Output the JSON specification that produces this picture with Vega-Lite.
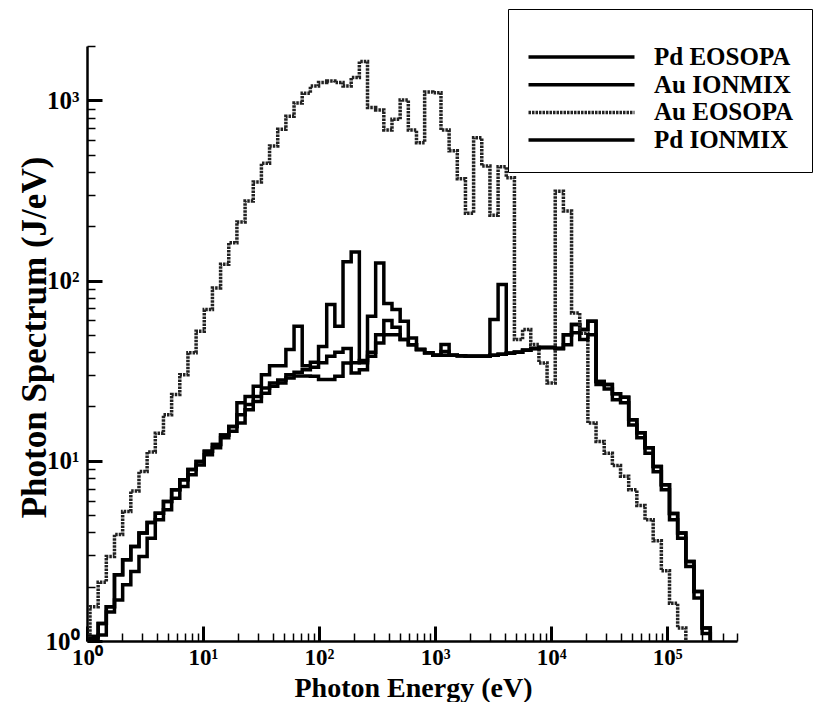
{
 "$schema": "https://vega.github.io/schema/vega-lite/v6.json",
 "width": 650,
 "height": 595,
 "autosize": {"type": "none"},
 "padding": {"left": 87, "top": 46, "right": 83, "bottom": 61},
 "background": "white",
 "config": {"view": {"stroke": null}, "axis": {"grid": false}},
 "data": {"values": [
  {"E":1,"Pd EOSOPA":0.5,"Au IONMIX":0.5,"Au EOSOPA":0.5,"Pd IONMIX":0.5},
  {"E":1.061,"Pd EOSOPA":1.06,"Au IONMIX":1.06,"Au EOSOPA":1.55,"Pd IONMIX":1.03},
  {"E":1.248,"Pd EOSOPA":1.25,"Au IONMIX":1.25,"Au EOSOPA":2.12,"Pd IONMIX":1.08},
  {"E":1.467,"Pd EOSOPA":1.55,"Au IONMIX":1.55,"Au EOSOPA":2.94,"Pd IONMIX":1.45},
  {"E":1.725,"Pd EOSOPA":2.33,"Au IONMIX":2.33,"Au EOSOPA":3.9,"Pd IONMIX":1.69},
  {"E":2.029,"Pd EOSOPA":2.82,"Au IONMIX":2.82,"Au EOSOPA":5.23,"Pd IONMIX":2.05},
  {"E":2.386,"Pd EOSOPA":3.34,"Au IONMIX":3.34,"Au EOSOPA":6.8,"Pd IONMIX":2.43},
  {"E":2.805,"Pd EOSOPA":3.97,"Au IONMIX":3.97,"Au EOSOPA":8.72,"Pd IONMIX":2.94},
  {"E":3.298,"Pd EOSOPA":4.54,"Au IONMIX":4.54,"Au EOSOPA":11.2,"Pd IONMIX":3.72},
  {"E":3.878,"Pd EOSOPA":5.12,"Au IONMIX":5.12,"Au EOSOPA":14.2,"Pd IONMIX":4.7},
  {"E":4.56,"Pd EOSOPA":5.94,"Au IONMIX":5.94,"Au EOSOPA":18,"Pd IONMIX":5.34},
  {"E":5.362,"Pd EOSOPA":6.9,"Au IONMIX":6.9,"Au EOSOPA":23.3,"Pd IONMIX":6.2},
  {"E":6.305,"Pd EOSOPA":7.84,"Au IONMIX":7.84,"Au EOSOPA":30,"Pd IONMIX":7.19},
  {"E":7.413,"Pd EOSOPA":8.93,"Au IONMIX":8.93,"Au EOSOPA":39.7,"Pd IONMIX":8.35},
  {"E":8.717,"Pd EOSOPA":9.9,"Au IONMIX":9.9,"Au EOSOPA":52.3,"Pd IONMIX":9.48},
  {"E":10.25,"Pd EOSOPA":11.3,"Au IONMIX":11.3,"Au EOSOPA":69,"Pd IONMIX":10.8},
  {"E":12.05,"Pd EOSOPA":12.3,"Au IONMIX":12.3,"Au EOSOPA":91,"Pd IONMIX":11.8},
  {"E":14.17,"Pd EOSOPA":13.9,"Au IONMIX":13.9,"Au EOSOPA":123,"Pd IONMIX":13.4},
  {"E":16.66,"Pd EOSOPA":15.5,"Au IONMIX":15.5,"Au EOSOPA":162,"Pd IONMIX":14.6},
  {"E":19.59,"Pd EOSOPA":18,"Au IONMIX":21,"Au EOSOPA":211,"Pd IONMIX":16.2},
  {"E":23.04,"Pd EOSOPA":20.5,"Au IONMIX":22.7,"Au EOSOPA":276,"Pd IONMIX":19.2},
  {"E":27.09,"Pd EOSOPA":22.7,"Au IONMIX":25.9,"Au EOSOPA":352,"Pd IONMIX":21.3},
  {"E":31.85,"Pd EOSOPA":25.3,"Au IONMIX":30,"Au EOSOPA":447,"Pd IONMIX":23.7},
  {"E":37.45,"Pd EOSOPA":27,"Au IONMIX":33.7,"Au EOSOPA":557,"Pd IONMIX":25.9},
  {"E":44.03,"Pd EOSOPA":28.1,"Au IONMIX":33.7,"Au EOSOPA":690,"Pd IONMIX":27},
  {"E":51.78,"Pd EOSOPA":30,"Au IONMIX":41.4,"Au EOSOPA":815,"Pd IONMIX":28.8},
  {"E":60.88,"Pd EOSOPA":31,"Au IONMIX":55.7,"Au EOSOPA":965,"Pd IONMIX":29.5},
  {"E":71.59,"Pd EOSOPA":32,"Au IONMIX":33.7,"Au EOSOPA":1095,"Pd IONMIX":29.5},
  {"E":84.17,"Pd EOSOPA":33,"Au IONMIX":35.2,"Au EOSOPA":1201,"Pd IONMIX":29.4},
  {"E":98.97,"Pd EOSOPA":35,"Au IONMIX":43,"Au EOSOPA":1253,"Pd IONMIX":28.2},
  {"E":116.4,"Pd EOSOPA":38,"Au IONMIX":73.5,"Au EOSOPA":1280,"Pd IONMIX":28.2},
  {"E":136.8,"Pd EOSOPA":40,"Au IONMIX":55.7,"Au EOSOPA":1253,"Pd IONMIX":29.4},
  {"E":160.9,"Pd EOSOPA":42,"Au IONMIX":127,"Au EOSOPA":1201,"Pd IONMIX":34.9},
  {"E":189.2,"Pd EOSOPA":35,"Au IONMIX":144,"Au EOSOPA":1336,"Pd IONMIX":30.7},
  {"E":222.5,"Pd EOSOPA":36,"Au IONMIX":35,"Au EOSOPA":1640,"Pd IONMIX":32},
  {"E":261.6,"Pd EOSOPA":63.4,"Au IONMIX":40,"Au EOSOPA":911,"Pd IONMIX":38},
  {"E":307.5,"Pd EOSOPA":125,"Au IONMIX":50,"Au EOSOPA":884,"Pd IONMIX":45},
  {"E":361.6,"Pd EOSOPA":74.5,"Au IONMIX":60,"Au EOSOPA":684,"Pd IONMIX":50},
  {"E":425.2,"Pd EOSOPA":69,"Au IONMIX":55,"Au EOSOPA":784,"Pd IONMIX":50},
  {"E":500,"Pd EOSOPA":59.4,"Au IONMIX":47,"Au EOSOPA":1004,"Pd IONMIX":47},
  {"E":587.9,"Pd EOSOPA":48,"Au IONMIX":44,"Au EOSOPA":684,"Pd IONMIX":44},
  {"E":691.3,"Pd EOSOPA":41.4,"Au IONMIX":41.4,"Au EOSOPA":582,"Pd IONMIX":41.4},
  {"E":812.8,"Pd EOSOPA":39.7,"Au IONMIX":39.7,"Au EOSOPA":1112,"Pd IONMIX":39.7},
  {"E":955.7,"Pd EOSOPA":38.5,"Au IONMIX":38.5,"Au EOSOPA":1100,"Pd IONMIX":38.5},
  {"E":1124,"Pd EOSOPA":44.1,"Au IONMIX":38.5,"Au EOSOPA":684,"Pd IONMIX":40.4},
  {"E":1321,"Pd EOSOPA":38.5,"Au IONMIX":38.5,"Au EOSOPA":524,"Pd IONMIX":38.5},
  {"E":1554,"Pd EOSOPA":38.2,"Au IONMIX":38.2,"Au EOSOPA":367,"Pd IONMIX":38.2},
  {"E":1827,"Pd EOSOPA":38,"Au IONMIX":38,"Au EOSOPA":236,"Pd IONMIX":38},
  {"E":2148,"Pd EOSOPA":38,"Au IONMIX":38,"Au EOSOPA":620,"Pd IONMIX":38},
  {"E":2526,"Pd EOSOPA":38,"Au IONMIX":38,"Au EOSOPA":432,"Pd IONMIX":38},
  {"E":2970,"Pd EOSOPA":38.5,"Au IONMIX":60.7,"Au EOSOPA":230,"Pd IONMIX":38.5},
  {"E":3492,"Pd EOSOPA":39,"Au IONMIX":95,"Au EOSOPA":428,"Pd IONMIX":39},
  {"E":4106,"Pd EOSOPA":39.5,"Au IONMIX":39.5,"Au EOSOPA":372,"Pd IONMIX":39.5},
  {"E":4828,"Pd EOSOPA":40,"Au IONMIX":40,"Au EOSOPA":47,"Pd IONMIX":40},
  {"E":5677,"Pd EOSOPA":41,"Au IONMIX":41,"Au EOSOPA":53.4,"Pd IONMIX":41},
  {"E":6675,"Pd EOSOPA":42,"Au IONMIX":42,"Au EOSOPA":44.1,"Pd IONMIX":42},
  {"E":7851,"Pd EOSOPA":42.5,"Au IONMIX":42.5,"Au EOSOPA":34.9,"Pd IONMIX":42.5},
  {"E":9229,"Pd EOSOPA":42.5,"Au IONMIX":42.5,"Au EOSOPA":27,"Pd IONMIX":42.5},
  {"E":10850,"Pd EOSOPA":42,"Au IONMIX":42,"Au EOSOPA":313,"Pd IONMIX":42},
  {"E":12760,"Pd EOSOPA":50,"Au IONMIX":50,"Au EOSOPA":243,"Pd IONMIX":44},
  {"E":15000,"Pd EOSOPA":57,"Au IONMIX":57,"Au EOSOPA":66,"Pd IONMIX":51.3},
  {"E":17640,"Pd EOSOPA":53.4,"Au IONMIX":53.4,"Au EOSOPA":51,"Pd IONMIX":47},
  {"E":20740,"Pd EOSOPA":59.4,"Au IONMIX":59.4,"Au EOSOPA":16.2,"Pd IONMIX":50},
  {"E":24390,"Pd EOSOPA":27.5,"Au IONMIX":27.5,"Au EOSOPA":12.8,"Pd IONMIX":26.5},
  {"E":28680,"Pd EOSOPA":26.5,"Au IONMIX":26.5,"Au EOSOPA":11,"Pd IONMIX":25},
  {"E":33720,"Pd EOSOPA":23.5,"Au IONMIX":23.5,"Au EOSOPA":9.4,"Pd IONMIX":21.8},
  {"E":39650,"Pd EOSOPA":22.5,"Au IONMIX":22.5,"Au EOSOPA":8.2,"Pd IONMIX":21},
  {"E":46630,"Pd EOSOPA":16.9,"Au IONMIX":16.9,"Au EOSOPA":6.9,"Pd IONMIX":15.8},
  {"E":54820,"Pd EOSOPA":14.3,"Au IONMIX":14.3,"Au EOSOPA":5.65,"Pd IONMIX":13.4},
  {"E":64460,"Pd EOSOPA":11.8,"Au IONMIX":11.8,"Au EOSOPA":4.7,"Pd IONMIX":11},
  {"E":75800,"Pd EOSOPA":9.3,"Au IONMIX":9.3,"Au EOSOPA":3.6,"Pd IONMIX":8.7},
  {"E":89120,"Pd EOSOPA":7.35,"Au IONMIX":7.35,"Au EOSOPA":2.45,"Pd IONMIX":6.9},
  {"E":104800,"Pd EOSOPA":5.1,"Au IONMIX":5.1,"Au EOSOPA":1.62,"Pd IONMIX":4.7},
  {"E":123200,"Pd EOSOPA":3.97,"Au IONMIX":3.97,"Au EOSOPA":1.18,"Pd IONMIX":3.72},
  {"E":144900,"Pd EOSOPA":2.76,"Au IONMIX":2.76,"Au EOSOPA":0.5,"Pd IONMIX":2.59},
  {"E":170400,"Pd EOSOPA":1.88,"Au IONMIX":1.88,"Au EOSOPA":0.5,"Pd IONMIX":1.73},
  {"E":200300,"Pd EOSOPA":1.18,"Au IONMIX":1.18,"Au EOSOPA":0.5,"Pd IONMIX":1.1},
  {"E":235500,"Pd EOSOPA":0.5,"Au IONMIX":0.5,"Au EOSOPA":0.5,"Pd IONMIX":0.5}
 ]},
 "transform": [{"fold": ["Pd EOSOPA", "Au IONMIX", "Au EOSOPA", "Pd IONMIX"], "as": ["curve", "S"]}],
 "layer": [
  {
   "mark": {"type": "line", "interpolate": "step-after", "clip": true},
   "encoding": {
    "x": {"field": "E", "type": "quantitative",
     "scale": {"type": "log", "domain": [1, 400000], "nice": false},
     "axis": {"orient": "bottom", "values": [1, 10, 100, 1000, 10000, 100000],
      "labelExpr": "datum.value == 1 ? '10⁰' : datum.value == 10 ? '10¹' : datum.value == 100 ? '10²' : datum.value == 1000 ? '10³' : datum.value == 10000 ? '10⁴' : '10⁵'",
      "title": "Photon Energy (eV)", "titleX": 326, "titleY": 55, "titleBaseline": "alphabetic", "titleAlign": "center",
      "titleFont": "Liberation Serif", "titleFontSize": 28, "titleFontWeight": "bold", "titleColor": "black",
      "labelFont": "Liberation Serif", "labelFontSize": 23, "labelFontWeight": "bold", "labelColor": "black",
      "labelPadding": 20, "labelFlush": false, "labelOverlap": false,
      "tickSize": -15, "tickWidth": 3, "tickColor": "black",
      "domainWidth": 2.5, "domainColor": "black", "grid": false}
    },
    "y": {"field": "S", "type": "quantitative",
     "scale": {"type": "log", "domain": [1, 2000], "nice": false},
     "axis": {"orient": "left", "values": [1, 10, 100, 1000],
      "labelExpr": "datum.value == 1 ? '10⁰' : datum.value == 10 ? '10¹' : datum.value == 100 ? '10²' : '10³'",
      "title": "Photon Spectrum (J/eV)", "titleX": -53, "titleY": 291, "titleAngle": -90, "titleAlign": "center", "titleBaseline": "middle",
      "titleFont": "Liberation Serif", "titleFontSize": 35, "titleFontWeight": "bold", "titleColor": "black",
      "labelFont": "Liberation Serif", "labelFontSize": 25, "labelFontWeight": "bold", "labelColor": "black",
      "labelPadding": 23, "labelFlush": false, "labelOverlap": false,
      "tickSize": -15, "tickWidth": 3, "tickColor": "black",
      "domainWidth": 2.5, "domainColor": "black", "grid": false}
    },
    "color": {"field": "curve", "type": "nominal",
     "scale": {"domain": ["Pd EOSOPA", "Au IONMIX", "Au EOSOPA", "Pd IONMIX"], "range": ["black", "black", "#222222", "black"]},
     "legend": {"orient": "none", "legendX": 421, "legendY": -37, "title": " ", "titleFontSize": 8, "titlePadding": 9.5,
      "padding": 18, "strokeColor": "black", "fillColor": "white", "symbolType": "M-1,0H9.6", "symbolSize": 400,
      "labelFont": "Liberation Serif", "labelFontSize": 25, "labelFontWeight": "bold", "labelColor": "black",
      "labelOffset": 103, "rowPadding": 1.7, "labelLimit": 150}
    },
    "strokeWidth": {"field": "curve", "type": "nominal",
     "scale": {"domain": ["Pd EOSOPA", "Au IONMIX", "Au EOSOPA", "Pd IONMIX"], "range": [3.5, 3.5, 2, 3.5]},
     "legend": {"orient": "none", "legendX": 421, "legendY": -37, "title": " ", "titleFontSize": 8, "titlePadding": 9.5,
      "padding": 18, "strokeColor": "black", "fillColor": "white", "symbolType": "M-1,0H9.6", "symbolSize": 400,
      "labelFont": "Liberation Serif", "labelFontSize": 25, "labelFontWeight": "bold", "labelColor": "black",
      "labelOffset": 103, "rowPadding": 1.7, "labelLimit": 150}
    },
    "strokeDash": {"field": "curve", "type": "nominal",
     "scale": {"domain": ["Pd EOSOPA", "Au IONMIX", "Au EOSOPA", "Pd IONMIX"], "range": [[1, 0], [1, 0], [2.5, 1], [1, 0]]},
     "legend": {"orient": "none", "legendX": 421, "legendY": -37, "title": " ", "titleFontSize": 8, "titlePadding": 9.5,
      "padding": 18, "strokeColor": "black", "fillColor": "white", "symbolType": "M-1,0H9.6", "symbolSize": 400,
      "labelFont": "Liberation Serif", "labelFontSize": 25, "labelFontWeight": "bold", "labelColor": "black",
      "labelOffset": 103, "rowPadding": 1.7, "labelLimit": 150}
    }
   }
  },
  {
   "mark": {"type": "point", "opacity": 0},
   "encoding": {
    "x": {"field": "E", "type": "quantitative",
     "axis": {"orient": "bottom", "values": [2,3,4,5,6,7,8,9,20,30,40,50,60,70,80,90,200,300,400,500,600,700,800,900,2000,3000,4000,5000,6000,7000,8000,9000,20000,30000,40000,50000,60000,70000,80000,90000,200000,300000,400000],
      "labels": false, "title": null, "domain": false, "tickSize": -8, "tickWidth": 1.5, "tickColor": "black", "grid": false}
    },
    "y": {"field": "S", "type": "quantitative",
     "axis": {"orient": "left", "values": [2,3,4,5,6,7,8,9,20,30,40,50,60,70,80,90,200,300,400,500,600,700,800,900,2000],
      "labels": false, "title": null, "domain": false, "tickSize": -8, "tickWidth": 1.5, "tickColor": "black", "grid": false}
    }
   }
  }
 ],
 "resolve": {"axis": {"x": "independent", "y": "independent"}}
}
